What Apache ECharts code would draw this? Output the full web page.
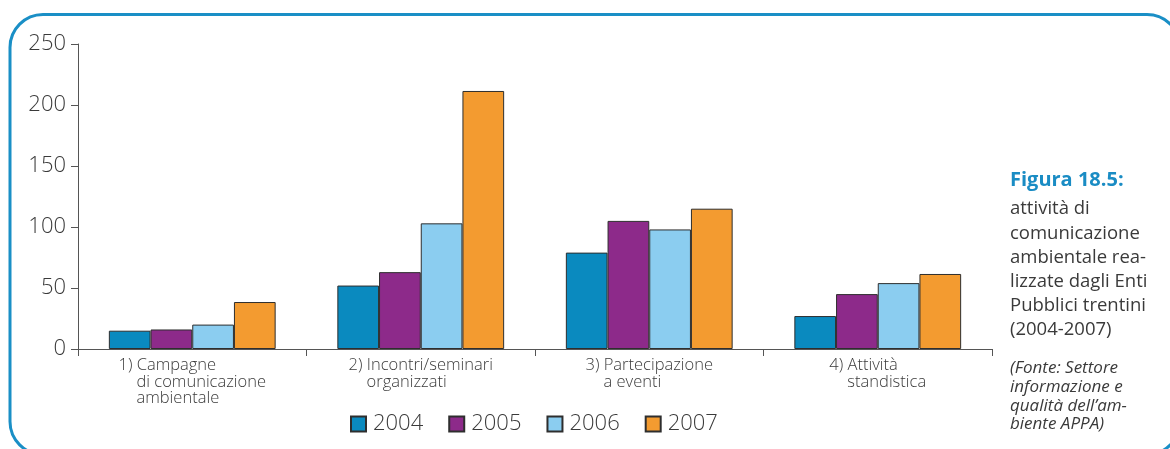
<!DOCTYPE html>
<html>
<head>
<meta charset="utf-8">
<script src="https://cdn.jsdelivr.net/npm/echarts@6/dist/echarts.min.js"></script>
<style>
html,body{margin:0;padding:0;background:#fff;}
#chart{width:1170px;height:449px;}
</style>
</head>
<body>
<div id="chart"></div>
<script>
const categories = [
  '1) Campagne\ndi comunicazione\nambientale',
  '2) Incontri/seminari\norganizzati',
  '3) Partecipazione\na eventi',
  '4) Attività\nstandistica'
];
const years = ['2004', '2005', '2006', '2007'];
const values2004 = [15, 52, 79, 27];
const values2005 = [16, 63, 105, 45];
const values2006 = [20, 103, 98, 54];
const values2007 = [38.5, 211.5, 115, 61.5];
const yTicks = [0, 50, 100, 150, 200, 250];
const colors = ['#0a8abf', '#8d2a8a', '#8bcdf0', '#f39b30'];
const captionTitle = 'Figura 18.5:';
const captionBody = 'attività di\ncomunicazione\nambientale rea-\nlizzate dagli Enti\nPubblici trentini\n(2004-2007)';
const captionSource = '(Fonte: Settore\ninformazione e\nqualità dell\u2019am-\nbiente APPA)';

const seriesValues = [values2004, values2005, values2006, values2007];
const FONT = '"Open Sans", "DejaVu Sans", sans-serif';
const TXT = '#3a3a3a';

const chart = echarts.init(document.getElementById('chart'), null, {renderer: 'canvas'});
chart.setOption({
  animation: false,
  backgroundColor: '#ffffff',
  textStyle: {fontFamily: FONT},
  grid: {left: 78, right: 178, top: 44, bottom: 100, containLabel: false},
  graphic: [{
    type: 'rect',
    silent: true,
    z: -10,
    shape: {x: 10, y: 14.5, width: 1170, height: 440, r: 33},
    style: {fill: 'none', stroke: '#1a8fc6', lineWidth: 3}
  }],
  title: [
    {text: captionTitle, left: 1005, top: 163,
     textStyle: {fontFamily: FONT, fontSize: 20, fontWeight: 'bold', color: '#1a8cc4', lineHeight: 24}},
    {text: captionBody, left: 1005, top: 192,
     textStyle: {fontFamily: FONT, fontSize: 18.5, fontWeight: 'normal', color: TXT, lineHeight: 24.2}},
    {text: captionSource, left: 1005, top: 354,
     textStyle: {fontFamily: FONT, fontSize: 17, fontStyle: 'italic', fontWeight: 'normal', color: TXT, lineHeight: 18.7}}
  ],
  legend: {
    left: 350, top: 413, padding: 0,
    itemWidth: 15, itemHeight: 15, itemGap: 25,
    icon: 'rect',
    data: years,
    textStyle: {fontFamily: FONT, fontSize: 22, fontWeight: 300, color: TXT, padding: [0, 0, 0, 2], lineHeight: 22}
  },
  xAxis: {
    type: 'category',
    data: categories,
    axisLine: {show: true, lineStyle: {color: '#555', width: 1}},
    axisTick: {show: true, length: 7, lineStyle: {color: '#555'}},
    axisLabel: {
      interval: 0, margin: 8, align: 'center',
      formatter: function (v) {
        const lines = v.split('\n');
        return lines.map((l, i) => (i === 0 ? '{a|' : '{b|') + l + '}').join('\n');
      },
      rich: {
        a: {fontFamily: FONT, fontSize: 16.5, fontWeight: 300, color: TXT, lineHeight: 16.7, align: 'left'},
        b: {fontFamily: FONT, fontSize: 16.5, fontWeight: 300, color: TXT, lineHeight: 16.7, align: 'left', padding: [0, 0, 0, 18]}
      }
    },
    splitLine: {show: false}
  },
  yAxis: {
    type: 'value',
    min: yTicks[0], max: yTicks[yTicks.length - 1], interval: yTicks[1] - yTicks[0],
    axisLine: {show: true, lineStyle: {color: '#555', width: 1}},
    axisTick: {show: true, length: 7, lineStyle: {color: '#555'}},
    axisLabel: {fontFamily: FONT, fontSize: 22, fontWeight: 300, color: TXT, margin: 12},
    splitLine: {show: false}
  },
  series: years.map((y, i) => ({
    name: y,
    type: 'bar',
    data: seriesValues[i],
    barGap: '0%',
    barCategoryGap: '27%',
    itemStyle: {color: colors[i], borderColor: '#2e2e2e', borderWidth: 1}
  }))
});
</script>
</body>
</html>
